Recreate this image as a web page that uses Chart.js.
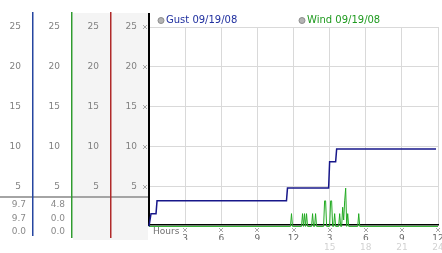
<!DOCTYPE html>
<html><head><meta charset="utf-8">
<style>html,body{margin:0;padding:0;background:#fff;overflow:hidden}canvas{display:block}</style>
<script src="https://cdn.jsdelivr.net/npm/chart.js@4.4.1/dist/chart.umd.min.js"></script>
</head><body>
<canvas id="c" width="442" height="253"></canvas>
<script>
// ---- data ----
const seriesNames = ['Gust 09/19/08', 'Wind 09/19/08'];
const gustTimes  = ['0:00','0:10','0:35','0:40','11:25','11:30','14:55','15:00','15:30','15:35','23:50'];
const gustValues = [0, 1.6, 1.6, 3.2, 3.2, 4.8, 4.8, 8.1, 8.1, 9.7, 9.7];
const windTimes  = ['0:00','11:45','11:50','11:55','12:40','12:45','12:50','12:55','13:00','13:05','13:10',
                    '13:30','13:35','13:40','13:45','13:50','13:55','14:30','14:35','14:40','14:45',
                    '15:00','15:05','15:10','15:15','15:20','15:25','15:30','15:45','15:50','15:55',
                    '16:00','16:05','16:10','16:15','16:20','16:25','16:30','16:35','17:20','17:25','17:30','24:00'];
const windValues = [0, 0, 1.6, 0, 0, 1.6, 0, 1.6, 0, 1.6, 0,
                    0, 1.6, 0, 0, 1.6, 0, 0, 3.2, 3.2, 0,
                    0, 3.2, 3.2, 0, 0, 1.6, 0, 0, 1.6, 0,
                    0, 2.4, 0.8, 3.2, 4.8, 0, 1.6, 0, 0, 1.6, 0, 0];
const yTickValues   = [5, 10, 15, 20, 25];
const xTickHours    = [3, 6, 9, 12, 15, 18, 21, 24];
const xTickLabels   = ['3','6','9','12','3','6','9','12'];
const xTickLabels24 = ['','','','','15','18','21','24'];
const xAxisTitle = 'Hours';
const gustStats = ['9.7', '9.7', '0.0'];
const windStats = ['4.8', '0.0', '0.0'];

const toHours = s => { const p = s.split(':').map(Number); return p[0] + p[1] / 60; };

const FONT = 'DejaVu Sans';
const tickFont = {family: FONT, size: 9};
const Y_MIN = 0.175, Y_MAX = 25;
const setYTicks = s => { s.ticks = yTickValues.map(v => ({value: v})); };
const setXTicks = s => { s.ticks = [0].concat(xTickHours).map(v => ({value: v})); };

function sideAxis(weight, width) {
  return {
    type: 'linear', position: 'left', axis: 'y', weight: weight, min: Y_MIN, max: Y_MAX,
    afterBuildTicks: setYTicks,
    grid: {display: false, drawTicks: false},
    border: {display: false},
    ticks: {font: tickFont, color: '#808080', padding: 12},
    afterFit: s => { s.width = width; }
  };
}

function mark(ctx, x, y) {
  ctx.fillStyle = '#a8a8a8';
  const pts = [[0,0],[3,0],[1,1],[2,1],[1,2],[2,2],[0,3],[3,3]];
  pts.forEach(p => ctx.fillRect(x + p[0], y + p[1], 1, 1));
}

const decor = {
  id: 'decor',
  beforeDraw(chart) {
    const ctx = chart.ctx;
    const s2 = chart.scales.y2, ya = chart.scales.y;
    ctx.save();
    ctx.fillStyle = '#f4f4f4';
    ctx.fillRect(s2.right + 1, 13, ya.right - s2.right - 2, 227);
    ctx.restore();
  },
  afterDraw(chart) {
    const ctx = chart.ctx, ca = chart.chartArea;
    const s1 = chart.scales.y1, s2 = chart.scales.y2, s3 = chart.scales.y3, ya = chart.scales.y, xa = chart.scales.x;
    ctx.save();
    // separator
    ctx.fillStyle = '#a4a4a4';
    ctx.fillRect(0, 196, ca.left - 1, 2);
    // column lines
    const vline = (x, y0, y1, c) => { ctx.fillStyle = c; ctx.fillRect(x - 1, y0, 1.5, y1 - y0); };
    vline(s1.right, 12, 236, '#2545a0');
    vline(s2.right, 12, 238, '#2f9a2f');
    vline(s3.right, 12, 238, '#b02a2a');
    ctx.fillStyle = '#000';
    ctx.fillRect(ca.left - 1, 13, 2, ca.top - 13);
    // stats
    ctx.font = '9px "' + FONT + '"';
    ctx.fillStyle = '#8a8a8a';
    ctx.textAlign = 'right';
    ctx.textBaseline = 'middle';
    const rows = [205, 218.5, 231.5];
    gustStats.forEach((t, i) => ctx.fillText(t, s1.right - 7, rows[i]));
    windStats.forEach((t, i) => ctx.fillText(t, s2.right - 7, rows[i]));
    // markers
    yTickValues.forEach(v => mark(ctx, ca.left - 6, Math.round(ya.getPixelForValue(v)) - 2));
    xTickHours.forEach(v => mark(ctx, Math.round(xa.getPixelForValue(v)) - 2, 228));
    // Hours
    ctx.textAlign = 'left';
    ctx.fillStyle = '#707070';
    ctx.fillText(xAxisTitle, ca.left + 4, 231.5);
    // legend
    const items = [
      {x: ca.left + 9, color: '#1f2f9f', text: seriesNames[0]},
      {x: ca.left + 150, color: '#1f9a1f', text: seriesNames[1]}
    ];
    ctx.font = '10px "' + FONT + '"';
    items.forEach(it => {
      ctx.beginPath();
      ctx.arc(it.x + 3, 20.5, 3, 0, Math.PI * 2);
      ctx.fillStyle = '#b4b4b4'; ctx.fill();
      ctx.lineWidth = 1; ctx.strokeStyle = '#8c8c8c'; ctx.stroke();
      ctx.fillStyle = it.color;
      ctx.fillText(it.text, it.x + 8, 20.5);
    });
    ctx.restore();
  }
};

new Chart(document.getElementById('c'), {
  type: 'line',
  data: {
    datasets: [
      {label: seriesNames[0], data: gustTimes.map((t, i) => ({x: toHours(t), y: gustValues[i]})),
       borderColor: '#17178a', borderWidth: 1.5, pointRadius: 0, tension: 0, clip: 3,
       xAxisID: 'x', yAxisID: 'y'},
      {label: seriesNames[1], data: windTimes.map((t, i) => ({x: toHours(t), y: windValues[i]})),
       borderColor: '#22aa22', borderWidth: 1, pointRadius: 0, tension: 0, clip: 3,
       xAxisID: 'x', yAxisID: 'y'}
    ]
  },
  options: {
    responsive: false, animation: false, devicePixelRatio: 1,
    layout: {padding: {top: 27, right: 4, left: 0, bottom: 0}},
    plugins: {legend: {display: false}, tooltip: {enabled: false}},
    scales: {
      y: {
        type: 'linear', position: 'left', axis: 'y', weight: 1, min: Y_MIN, max: Y_MAX,
        afterBuildTicks: setYTicks,
        grid: {color: '#d9d9d9', drawTicks: false, lineWidth: 1},
        border: {display: true, color: '#000', width: 2},
        ticks: {font: tickFont, color: '#808080', padding: 12},
        afterFit: s => { s.width = 38; }
      },
      y3: sideAxis(2, 39),
      y2: sideAxis(3, 39),
      y1: sideAxis(4, 33),
      x: {
        type: 'linear', position: 'bottom', axis: 'x', weight: 1, min: 0, max: 24,
        afterBuildTicks: setXTicks,
        grid: {color: '#d9d9d9', drawTicks: false, lineWidth: 1},
        border: {display: true, color: '#000', width: 1.5},
        ticks: {font: tickFont, color: '#6a6a6a', padding: 8, maxRotation: 0, autoSkip: false,
                callback: v => { const i = xTickHours.indexOf(v); return i < 0 ? '' : xTickLabels[i]; }},
        afterFit: s => { s.height = 15; s.paddingLeft = 0; s.paddingRight = 0; }
      },
      x2: {
        type: 'linear', position: 'bottom', axis: 'x', weight: 2, min: 0, max: 24,
        afterBuildTicks: setXTicks,
        grid: {display: false, drawTicks: false},
        border: {display: false},
        ticks: {font: tickFont, color: '#d2d2d2', padding: 2, maxRotation: 0, autoSkip: false,
                callback: v => { const i = xTickHours.indexOf(v); return i < 0 ? '' : xTickLabels24[i]; }},
        afterFit: s => { s.height = 13; s.paddingLeft = 0; s.paddingRight = 0; }
      }
    }
  },
  plugins: [decor]
});
</script>
</body></html>
